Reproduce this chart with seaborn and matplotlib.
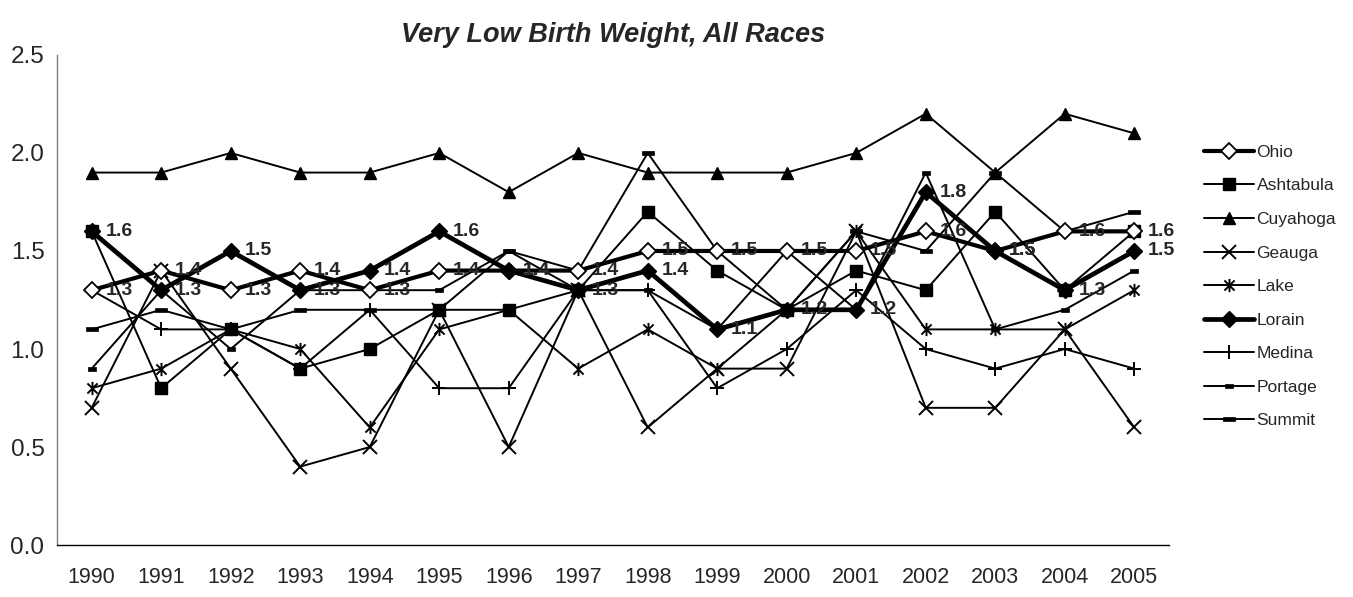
import numpy as np
import pandas as pd
import matplotlib
matplotlib.use("Agg")
import matplotlib.pyplot as plt
from matplotlib.path import Path
import seaborn as sns

years = ["1990", "1991", "1992", "1993", "1994", "1995", "1996", "1997",
         "1998", "1999", "2000", "2001", "2002", "2003", "2004", "2005"]

ohio      = [1.3, 1.4, 1.3, 1.4, 1.3, 1.4, 1.4, 1.4, 1.5, 1.5, 1.5, 1.5, 1.6, 1.5, 1.6, 1.6]
ashtabula = [1.6, 0.8, 1.1, 0.9, 1.0, 1.2, 1.2, 1.3, 1.7, 1.4, 1.2, 1.4, 1.3, 1.7, 1.3, 1.6]
cuyahoga  = [1.9, 1.9, 2.0, 1.9, 1.9, 2.0, 1.8, 2.0, 1.9, 1.9, 1.9, 2.0, 2.2, 1.9, 2.2, 2.1]
geauga    = [0.7, 1.4, 0.9, 0.4, 0.5, 1.2, 0.5, 1.3, 0.6, 0.9, 0.9, 1.6, 0.7, 0.7, 1.1, 0.6]
lake      = [0.8, 0.9, 1.1, 1.0, 0.6, 1.1, 1.2, 0.9, 1.1, 0.9, 1.2, 1.6, 1.1, 1.1, 1.1, 1.3]
lorain    = [1.6, 1.3, 1.5, 1.3, 1.4, 1.6, 1.4, 1.3, 1.4, 1.1, 1.2, 1.2, 1.8, 1.5, 1.3, 1.5]
medina    = [1.3, 1.1, 1.1, 0.9, 1.2, 0.8, 0.8, 1.3, 1.3, 0.8, 1.0, 1.3, 1.0, 0.9, 1.0, 0.9]
portage   = [0.9, 1.3, 1.0, 1.3, 1.3, 1.3, 1.5, 1.3, 1.3, 1.1, 1.5, 1.2, 1.9, 1.1, 1.2, 1.4]
summit    = [1.1, 1.2, 1.1, 1.2, 1.2, 1.2, 1.5, 1.4, 2.0, 1.5, 1.2, 1.6, 1.5, 1.9, 1.6, 1.7]

series_names = ["Ohio", "Ashtabula", "Cuyahoga", "Geauga", "Lake",
                "Lorain", "Medina", "Portage", "Summit"]
series_values = [ohio, ashtabula, cuyahoga, geauga, lake,
                 lorain, medina, portage, summit]
labeled = ["Ohio", "Lorain"]

title = "Very Low Birth Weight, All Races"

# custom markers
star = Path([(-1, -1), (1, 1), (-1, 1), (1, -1), (0, -1.3), (0, 1.3)],
            [Path.MOVETO, Path.LINETO, Path.MOVETO, Path.LINETO, Path.MOVETO, Path.LINETO])
dash = Path([(-1, -0.4), (1, -0.4), (1, 0.4), (-1, 0.4), (-1, -0.4)],
            [Path.MOVETO, Path.LINETO, Path.LINETO, Path.LINETO, Path.CLOSEPOLY])

styles = {
    "Ohio":      dict(marker="D", markersize=8, markerfacecolor="white", lw=3.0, zorder=6, mew=1.3),
    "Ashtabula": dict(marker="s", markersize=8.5, markerfacecolor="black", lw=1.4, zorder=3, mew=1),
    "Cuyahoga":  dict(marker="^", markersize=9, markerfacecolor="black", lw=1.4, zorder=3, mew=1),
    "Geauga":    dict(marker="x", markersize=9.5, markerfacecolor="black", lw=1.4, zorder=3, mew=1.4),
    "Lake":      dict(marker=star, markersize=9.5, markerfacecolor="black", lw=1.4, zorder=3, mew=1.4),
    "Lorain":    dict(marker="D", markersize=8.5, markerfacecolor="black", lw=3.4, zorder=7, mew=1),
    "Medina":    dict(marker="+", markersize=10.5, markerfacecolor="black", lw=1.4, zorder=3, mew=1.4),
    "Portage":   dict(marker=dash, markersize=5.5, markerfacecolor="black", lw=1.4, zorder=3, mew=0.5),
    "Summit":    dict(marker=dash, markersize=8.5, markerfacecolor="black", lw=1.4, zorder=3, mew=0.5),
}

rows = []
for name, vals in zip(series_names, series_values):
    for i, (yr, v) in enumerate(zip(years, vals)):
        rows.append({"series": name, "pos": i, "year": yr, "value": v})
df = pd.DataFrame(rows)

sns.set_style("white")
plt.rcParams["font.family"] = ["Liberation Sans", "DejaVu Sans"]

fig = plt.figure(figsize=(13.53, 5.97), dpi=100)
ax = fig.add_axes([0.0421, 0.087, 0.8219, 0.821])

for name in series_names:
    st = styles[name]
    sub = df[df["series"] == name]
    sns.lineplot(data=sub, x="pos", y="value", ax=ax, color="black",
                 linewidth=st["lw"], marker=st["marker"], markersize=st["markersize"],
                 markerfacecolor=st["markerfacecolor"], markeredgecolor="black",
                 markeredgewidth=st["mew"], zorder=st["zorder"], label=name,
                 errorbar=None, sort=False)

for name in labeled:
    sub = df[df["series"] == name]
    for _, r in sub.iterrows():
        ax.annotate(f"{r['value']:.1f}", (r["pos"], r["value"]),
                    xytext=(10, 0), textcoords="offset points",
                    ha="left", va="center", fontsize=14, fontweight="bold",
                    zorder=8)

ax.set_xlim(-0.5, len(years) - 0.5)
ax.set_ylim(0, 2.5)
ax.set_yticks(np.arange(0, 2.51, 0.5))
ax.set_yticklabels([f"{v:.1f}" for v in np.arange(0, 2.51, 0.5)], fontsize=17.5)
ax.set_xticks(range(len(years)))
ax.set_xticklabels(years, fontsize=15.5)
ax.set_xticks(np.arange(-0.5, len(years), 1), minor=True)
ax.tick_params(axis="x", which="major", length=0, pad=16)
ax.tick_params(axis="x", which="minor", length=6, width=1, color="black", direction="out")
ax.tick_params(axis="y", length=5, width=1, color="#808080", direction="out", pad=4)
ax.set_xlabel("")
ax.set_ylabel("")
for s in ["top", "right"]:
    ax.spines[s].set_visible(False)
ax.spines["left"].set_color("#808080")
ax.spines["left"].set_linewidth(1)
ax.spines["bottom"].set_color("black")
ax.spines["bottom"].set_linewidth(1)
ax.grid(False)

ax.set_title(title, fontsize=19.5, fontweight="bold", fontstyle="italic", pad=9)

handles, labels_ = ax.get_legend_handles_labels()
ax.legend(handles, labels_, loc="center left", bbox_to_anchor=(0.878, 0.52),
          bbox_transform=fig.transFigure, frameon=False, fontsize=12.5,
          handlelength=2.9, handletextpad=0.15, labelspacing=1.06, borderpad=0.4)

fig.savefig("out.png", dpi=100)
